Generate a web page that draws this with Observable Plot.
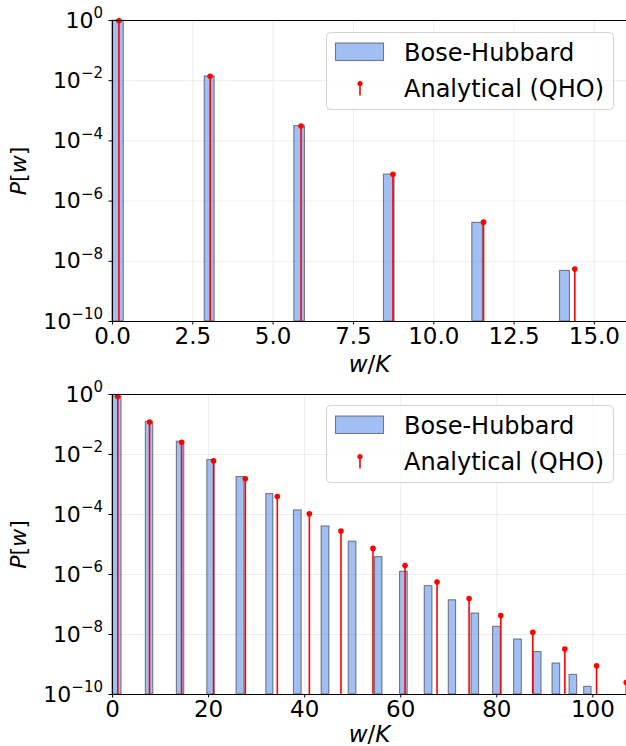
<!DOCTYPE html>
<html><head><meta charset="utf-8">
<script src="https://cdn.jsdelivr.net/npm/d3@7"></script>
<script src="https://cdn.jsdelivr.net/npm/@observablehq/plot@0.6"></script>
<style>
body{margin:0;background:#fff;font-family:"DejaVu Sans",sans-serif;}
.panel{position:relative;width:626px;height:373px;}
.panel svg.legend{position:absolute;left:326px;top:32px;}
</style></head><body>
<div id="top" class="panel"></div>
<div id="bottom" class="panel"></div>
<script>
// ---- Top panel data ----
const topBarLeft  = [0, 2.87, 5.66, 8.45, 11.20, 13.93];
const topBarRight = [0.35, 3.18, 5.99, 8.78, 11.53, 14.24];
const topBarP     = [0.986, 1.38e-2, 3.1e-4, 7.6e-6, 1.9e-7, 4.8e-9];
const topQhoW     = [0.20, 3.04, 5.87, 8.73, 11.55, 14.39];
const topQhoP     = [0.986, 1.4e-2, 3.1e-4, 7.8e-6, 2.0e-7, 5.5e-9];
const topXTicks   = [0, 2.5, 5, 7.5, 10, 12.5, 15];

// ---- Bottom panel data ----
const botBarLeft  = [0, 6.94, 13.40, 19.73, 25.83, 32.02, 37.77, 43.54, 49.17, 54.65, 59.85, 65.00, 70.00, 74.73, 79.23, 83.60, 87.71, 91.60, 95.15, 98.19];
const botBarRight = [1.88, 8.48, 14.94, 21.25, 27.50, 33.48, 39.38, 45.15, 50.77, 56.19, 61.46, 66.60, 71.52, 76.31, 80.83, 85.21, 89.31, 93.19, 96.73, 99.73];
const botBarP     = [0.85, 0.123, 2.66e-2, 6.5e-3, 1.77e-3, 4.8e-4, 1.37e-4, 4.0e-5, 1.24e-5, 3.8e-6, 1.23e-6, 4.1e-7, 1.38e-7, 5.0e-8, 1.8e-8, 6.8e-9, 2.6e-9, 1.08e-9, 4.5e-10, 1.8e-10];
const botQhoW     = [1.10, 7.71, 14.38, 21.04, 27.65, 34.31, 40.98, 47.56, 54.23, 60.90, 67.56, 74.23, 80.83, 87.50, 94.17, 100.77, 106.95];
const botQhoP     = [0.85, 0.12, 2.57e-2, 6.2e-3, 1.56e-3, 4.0e-4, 1.06e-4, 2.8e-5, 7.4e-6, 2.0e-6, 5.6e-7, 1.57e-7, 4.3e-8, 1.18e-8, 3.3e-9, 9.0e-10, 2.5e-10];
const botXTicks   = [0, 20, 40, 60, 80, 100];

// ---- shared ----
const yTicks = [1, 1e-2, 1e-4, 1e-6, 1e-8, 1e-10];
const yMin = 1e-10;
const legendLabels = ["Bose-Hubbard", "Analytical (QHO)"];

function panel(el, bars, qho, xDomain, xTicks, xFmt, marginTop, xLabelOffset) {
  const barData = bars.left.map((l, i) => ({x1: l, x2: bars.right[i], p: bars.p[i]}));
  const qhoData = qho.w.map((w, i) => ({w, p: qho.p[i]}));
  const svg = Plot.plot({
    width: 626, height: 373,
    marginLeft: 112, marginRight: 0, marginTop, marginBottom: 52,
    style: {fontFamily: "DejaVu Sans", fontSize: "22px", color: "#000", background: "transparent", overflow: "visible"},
    x: {domain: xDomain},
    y: {type: "log", domain: [yMin, 1]},
    marks: [
      Plot.gridX(xTicks, {stroke: "#000", strokeOpacity: 0.07, strokeWidth: 1}),
      Plot.gridY(yTicks, {stroke: "#000", strokeOpacity: 0.07, strokeWidth: 1}),
      Plot.rect(barData, {x1: "x1", x2: "x2", y1: yMin, y2: "p", fill: "cornflowerblue", fillOpacity: 0.6, stroke: "#333", strokeOpacity: 0.6, strokeWidth: 1.1}),
      Plot.ruleX(qhoData, {x: "w", y1: yMin, y2: "p", stroke: "red", strokeWidth: 1.6}),
      Plot.dot(qhoData, {x: "w", y: "p", r: 2.8, fill: "red", stroke: null}),
      Plot.ruleY([1], {stroke: "#000", strokeWidth: 1.1}),
      Plot.ruleY([yMin], {stroke: "#000", strokeWidth: 1.1}),
      Plot.ruleX([0], {stroke: "#000", strokeWidth: 1.1}),
      Plot.axisX({ticks: xTicks, tickFormat: xFmt, tickSize: 3.5, tickPadding: 3, fontSize: 23, label: "w/K", labelAnchor: "center", labelOffset: xLabelOffset}),
      Plot.axisY({ticks: yTicks, tickFormat: d => "10^" + Math.round(Math.log10(d)).toString().replace("-", "\u2212"), tickSize: 3.5, tickPadding: 6, label: "P[w]", labelAnchor: "center", labelOffset: 102})
    ]
  });
  const s = d3.select(svg);
  s.selectAll('g[aria-label="y-axis tick label"] text').each(function() {
    const t = this.textContent;
    const m = t.match(/^10\^(.*)$/);
    if (!m) return;
    const sel = d3.select(this);
    sel.selectAll("*").remove();
    sel.text(null);
    sel.append("tspan").text("10");
    sel.append("tspan").attr("dy", "-0.62em").attr("font-size", "15px").text(m[1]);
  });
  const italicize = (sel, parts, size) => {
    sel.each(function() {
      const node = d3.select(this);
      node.selectAll("*").remove();
      node.text(null);
      node.attr("font-size", size);
      parts.forEach(([txt, it]) => node.append("tspan").attr("font-style", it ? "italic" : "normal").text(txt));
    });
  };
  italicize(s.selectAll('g[aria-label="x-axis label"] text'), [["w", true], ["/", false], ["K", true]], 23);
  italicize(s.selectAll('g[aria-label="y-axis label"] text'), [["P", true], ["[", false], ["w", true], ["]", false]], 22);
  el.appendChild(svg);

  // legend
  const lg = d3.select(el).append("svg").attr("class", "legend").attr("width", 290).attr("height", 80)
    .style("font-family", "DejaVu Sans").style("font-size", "24px");
  lg.append("rect").attr("x", 0.5).attr("y", 0.5).attr("width", 287).attr("height", 77).attr("rx", 4)
    .attr("fill", "#fff").attr("fill-opacity", 0.8).attr("stroke", "#d3d3d3");
  lg.append("rect").attr("x", 9.5).attr("y", 11).attr("width", 48).attr("height", 17.5)
    .attr("fill", "cornflowerblue").attr("fill-opacity", 0.6).attr("stroke", "#333").attr("stroke-opacity", 0.6).attr("stroke-width", 1.1);
  lg.append("line").attr("x1", 34).attr("x2", 34).attr("y1", 51).attr("y2", 63.5).attr("stroke", "red").attr("stroke-width", 1.6);
  lg.append("circle").attr("cx", 34).attr("cy", 51.5).attr("r", 2.6).attr("fill", "red");
  lg.append("text").attr("x", 78).attr("y", 29).attr("fill", "#000").text(legendLabels[0]);
  lg.append("text").attr("x", 78).attr("y", 64.5).attr("fill", "#000").text(legendLabels[1]);
}

panel(document.getElementById("top"),
  {left: topBarLeft, right: topBarRight, p: topBarP},
  {w: topQhoW, p: topQhoP},
  [0, 16], topXTicks, d3.format(".1f"), 20, 50);
panel(document.getElementById("bottom"),
  {left: botBarLeft, right: botBarRight, p: botBarP},
  {w: botQhoW, p: botQhoP},
  [0, 107], botXTicks, d3.format("d"), 21, 47);
</script>
</body></html>
